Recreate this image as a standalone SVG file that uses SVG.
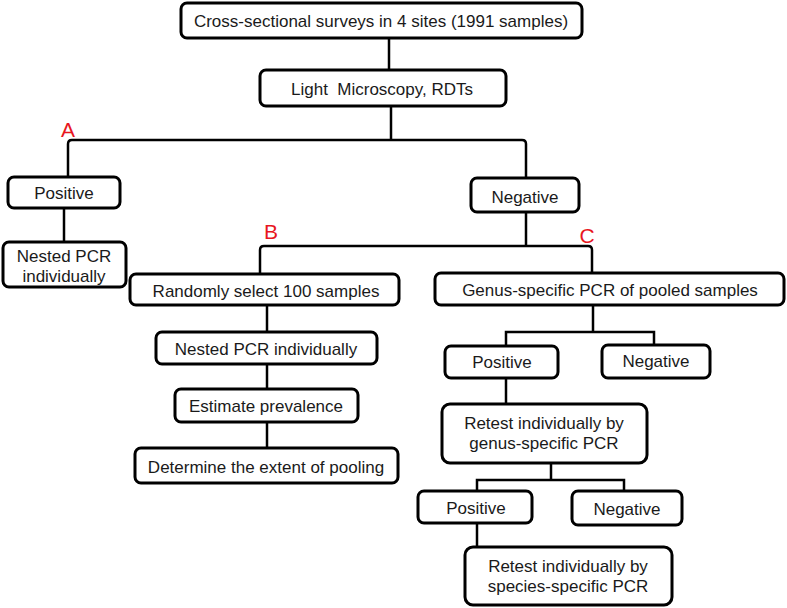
<svg xmlns="http://www.w3.org/2000/svg" width="787" height="608" viewBox="0 0 787 608">
<style>
.box{fill:#fff;stroke:#000;stroke-width:3}
.t{font-family:"Liberation Sans",Arial,sans-serif;font-size:17px;fill:#1a1a1a;text-anchor:middle}
.lbl{font-family:"Liberation Sans",Arial,sans-serif;font-size:21px;fill:#e8161e;text-anchor:middle}
.c{fill:none;stroke:#000;stroke-width:2.5}
</style>
<rect width="787" height="608" fill="#fff"/>
<g id="connectors">
<path class="c" d="M389 38V70"/>
<path class="c" d="M391 106V140"/>
<path class="c" d="M68 176V144Q68 140 72 140H522Q526 140 526 144V178"/>
<path class="c" d="M64 208V242"/>
<path class="c" d="M526 212V246"/>
<path class="c" d="M260 274V250Q260 246 264 246H588Q592 246 592 250V274"/>
<path class="c" d="M267 305V332"/>
<path class="c" d="M267 364V389"/>
<path class="c" d="M267 422V448"/>
<path class="c" d="M593 305V332"/>
<path class="c" d="M506 346V332H654V346"/>
<path class="c" d="M506 378V404"/>
<path class="c" d="M551 463V480"/>
<path class="c" d="M477 491V480H624V491"/>
<path class="c" d="M477 523V547"/>
</g>
<g id="labels">
<text class="lbl" x="68" y="137">A</text>
<text class="lbl" x="271" y="239">B</text>
<text class="lbl" x="587" y="243">C</text>
</g>
<g id="n1"><rect class="box" x="181" y="3" width="401" height="35" rx="6"/><text class="t" x="381" y="27">Cross-sectional surveys in 4 sites (1991 samples)</text></g>
<g id="n2"><rect class="box" x="260" y="70" width="246" height="36" rx="6"/><text class="t" x="382" y="95" xml:space="preserve">Light  Microscopy, RDTs</text></g>
<g id="n3"><rect class="box" x="8" y="177" width="112" height="31" rx="6"/><text class="t" x="64" y="199">Positive</text></g>
<g id="n4"><rect class="box" x="3" y="242" width="123" height="45" rx="6"/><text class="t" x="64" y="262">Nested PCR</text><text class="t" x="64" y="282">individually</text></g>
<g id="n5"><rect class="box" x="471" y="178" width="108" height="34" rx="6"/><text class="t" x="525" y="203">Negative</text></g>
<g id="n6"><rect class="box" x="130" y="274" width="269" height="31" rx="6"/><text class="t" x="266" y="297">Randomly select 100 samples</text></g>
<g id="n7"><rect class="box" x="435" y="273" width="349" height="32" rx="6"/><text class="t" x="610" y="296">Genus-specific PCR of pooled samples</text></g>
<g id="n8"><rect class="box" x="156" y="332" width="221" height="32" rx="6"/><text class="t" x="266" y="355">Nested PCR individually</text></g>
<g id="n9"><rect class="box" x="175" y="389" width="183" height="33" rx="6"/><text class="t" x="266" y="412">Estimate prevalence</text></g>
<g id="n10"><rect class="box" x="135" y="448" width="263" height="35" rx="6"/><text class="t" x="266" y="473">Determine the extent of pooling</text></g>
<g id="n11"><rect class="box" x="445" y="346" width="113" height="32" rx="6"/><text class="t" x="502" y="368">Positive</text></g>
<g id="n12"><rect class="box" x="602" y="345" width="108" height="33" rx="6"/><text class="t" x="656" y="367">Negative</text></g>
<g id="n13"><rect class="box" x="442" y="404" width="205" height="59" rx="8"/><text class="t" x="544" y="429">Retest individually by</text><text class="t" x="544" y="449">genus-specific PCR</text></g>
<g id="n14"><rect class="box" x="418" y="491" width="114" height="32" rx="6"/><text class="t" x="476" y="514">Positive</text></g>
<g id="n15"><rect class="box" x="572" y="491" width="110" height="34" rx="6"/><text class="t" x="627" y="515">Negative</text></g>
<g id="n16"><rect class="box" x="465" y="547" width="207" height="58" rx="8"/><text class="t" x="568" y="572">Retest individually by</text><text class="t" x="568" y="592">species-specific PCR</text></g>
</svg>
